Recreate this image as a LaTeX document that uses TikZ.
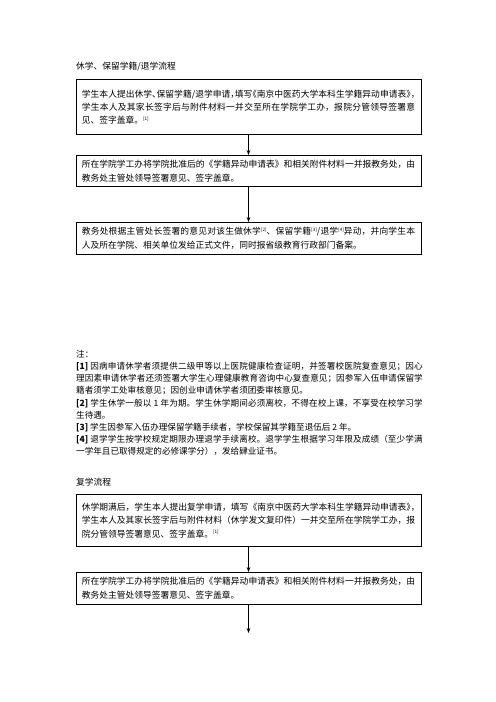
\documentclass[tikz,border=0pt]{standalone}
\usepackage{fontspec}
\setmainfont{Noto Sans CJK SC}
\usetikzlibrary{arrows.meta}
\XeTeXlinebreaklocale "zh"
\XeTeXlinebreakskip = 0pt plus 1pt

\tikzset{
  stepbox/.style={draw, line width=1.2pt, text width=400pt, inner xsep=7pt, inner ysep=6pt,
    align=justify, anchor=north, font=\fontsize{10.5pt}{16pt}\selectfont},
  flow/.style={-{Stealth[length=6pt,width=4.5pt]}, line width=1pt},
  heading/.style={anchor=west, inner sep=0pt, font=\fontsize{10.5pt}{14pt}\selectfont},
}
\newcommand{\refmark}[1]{\raisebox{0.7ex}{\fontsize{5.5pt}{5.5pt}\selectfont[#1]}}
% half-width punctuation
\newcommand{\hwl}[1]{\makebox[0.5em][l]{#1}}
\newcommand{\hwr}[1]{\makebox[0.5em][r]{#1}}
% slightly tighter line filling
\newcommand{\tightskip}{\XeTeXlinebreakskip=0pt plus 1pt minus 0.3pt\relax}

\begin{document}
\begin{tikzpicture}[x=1.2pt, y=-1.2pt]
  \useasboundingbox (0,0) rectangle (496,702);
  % 休学、保留学籍/退学
  \node[heading] (title1) at (76,67) {休学、保留学籍/退学流程};
  \node[stepbox, minimum height=66pt] (box1) at (248.5,79) {\tightskip 学生本人提出休学\hwl{、}保留学籍/退学申请\hwl{，}填写\hwr{《}南京中医药大学本科生学籍异动申请表\hwl{》}\hwl{，}\hspace{0pt plus 1pt}学生本人及其家长签字后与附件材料一并交至所在学院学工办，报院分管领导签署意见、签字盖章。\refmark{1}};
  \node[stepbox] (box2) at (248.5,155) {所在学院学工办将学院批准后的《学籍异动申请表》和相关附件材料一并报教务处，由教务处主管处领导签署意见、签字盖章。};
  \node[stepbox] (box3) at (248.5,222) {教务处根据主管处长签署的意见对该生做休学\refmark{2}、保留学籍\refmark{3}/退学\refmark{4}异动，并向学生本人及所在学院、相关单位发给正式文件，同时报省级教育行政部门备案。};
  \draw[flow] (box1) -- (box2);
  \draw[flow] (box2) -- (box3);
  % 注
  \node[anchor=north west, inner sep=0pt, text width=416pt, align=justify,
    font=\fontsize{10.3pt}{14.6pt}\selectfont] (notes) at (76,350) {注：\par
    \textbf{[1]} 因病申请休学者须提供二级甲等以上医院健康检查证明，并签署校医院复查意见；因心理因素申请休学者还须签署大学生心理健康教育咨询中心复查意见；因参军入伍申请保留学籍者须学工处审核意见；因创业申请休学者须团委审核意见。\par
    \textbf{[2]} 学生休学一般以 1 年为期。学生休学期间必须离校，不得在校上课，不享受在校学习学生待遇。\par
    \textbf{[3]} 学生因参军入伍办理保留学籍手续者，学校保留其学籍至退伍后 2 年。\par
    \textbf{[4]} 退学学生按学校规定期限办理退学手续离校。退学学生根据学习年限及成绩（至少学满一学年且已取得规定的必修课学分），发给肄业证书。};
  % 复学
  \node[heading] (title2) at (76,482) {复学流程};
  \node[stepbox, minimum height=62pt] (box4) at (248.5,494) {\tightskip 休学期满后，学生本人提出复学申请，填写《南京中医药大学本科生学籍异动申请表\hwl{》}\hwl{，}\hspace{0pt plus 1pt}学生本人及其家长签字后与附件材料（休学发文复印件）一并交至所在学院学工办，报院分管领导签署意见、签字盖章。\refmark{1}};
  \node[stepbox] (box5) at (248.5,572) {所在学院学工办将学院批准后的《学籍异动申请表》和相关附件材料一并报教务处，由教务处主管处领导签署意见、签字盖章。};
  \coordinate (end) at (248.5,633);
  \draw[flow] (box4) -- (box5);
  \draw[flow] (box5) -- (end);
\end{tikzpicture}
\end{document}
